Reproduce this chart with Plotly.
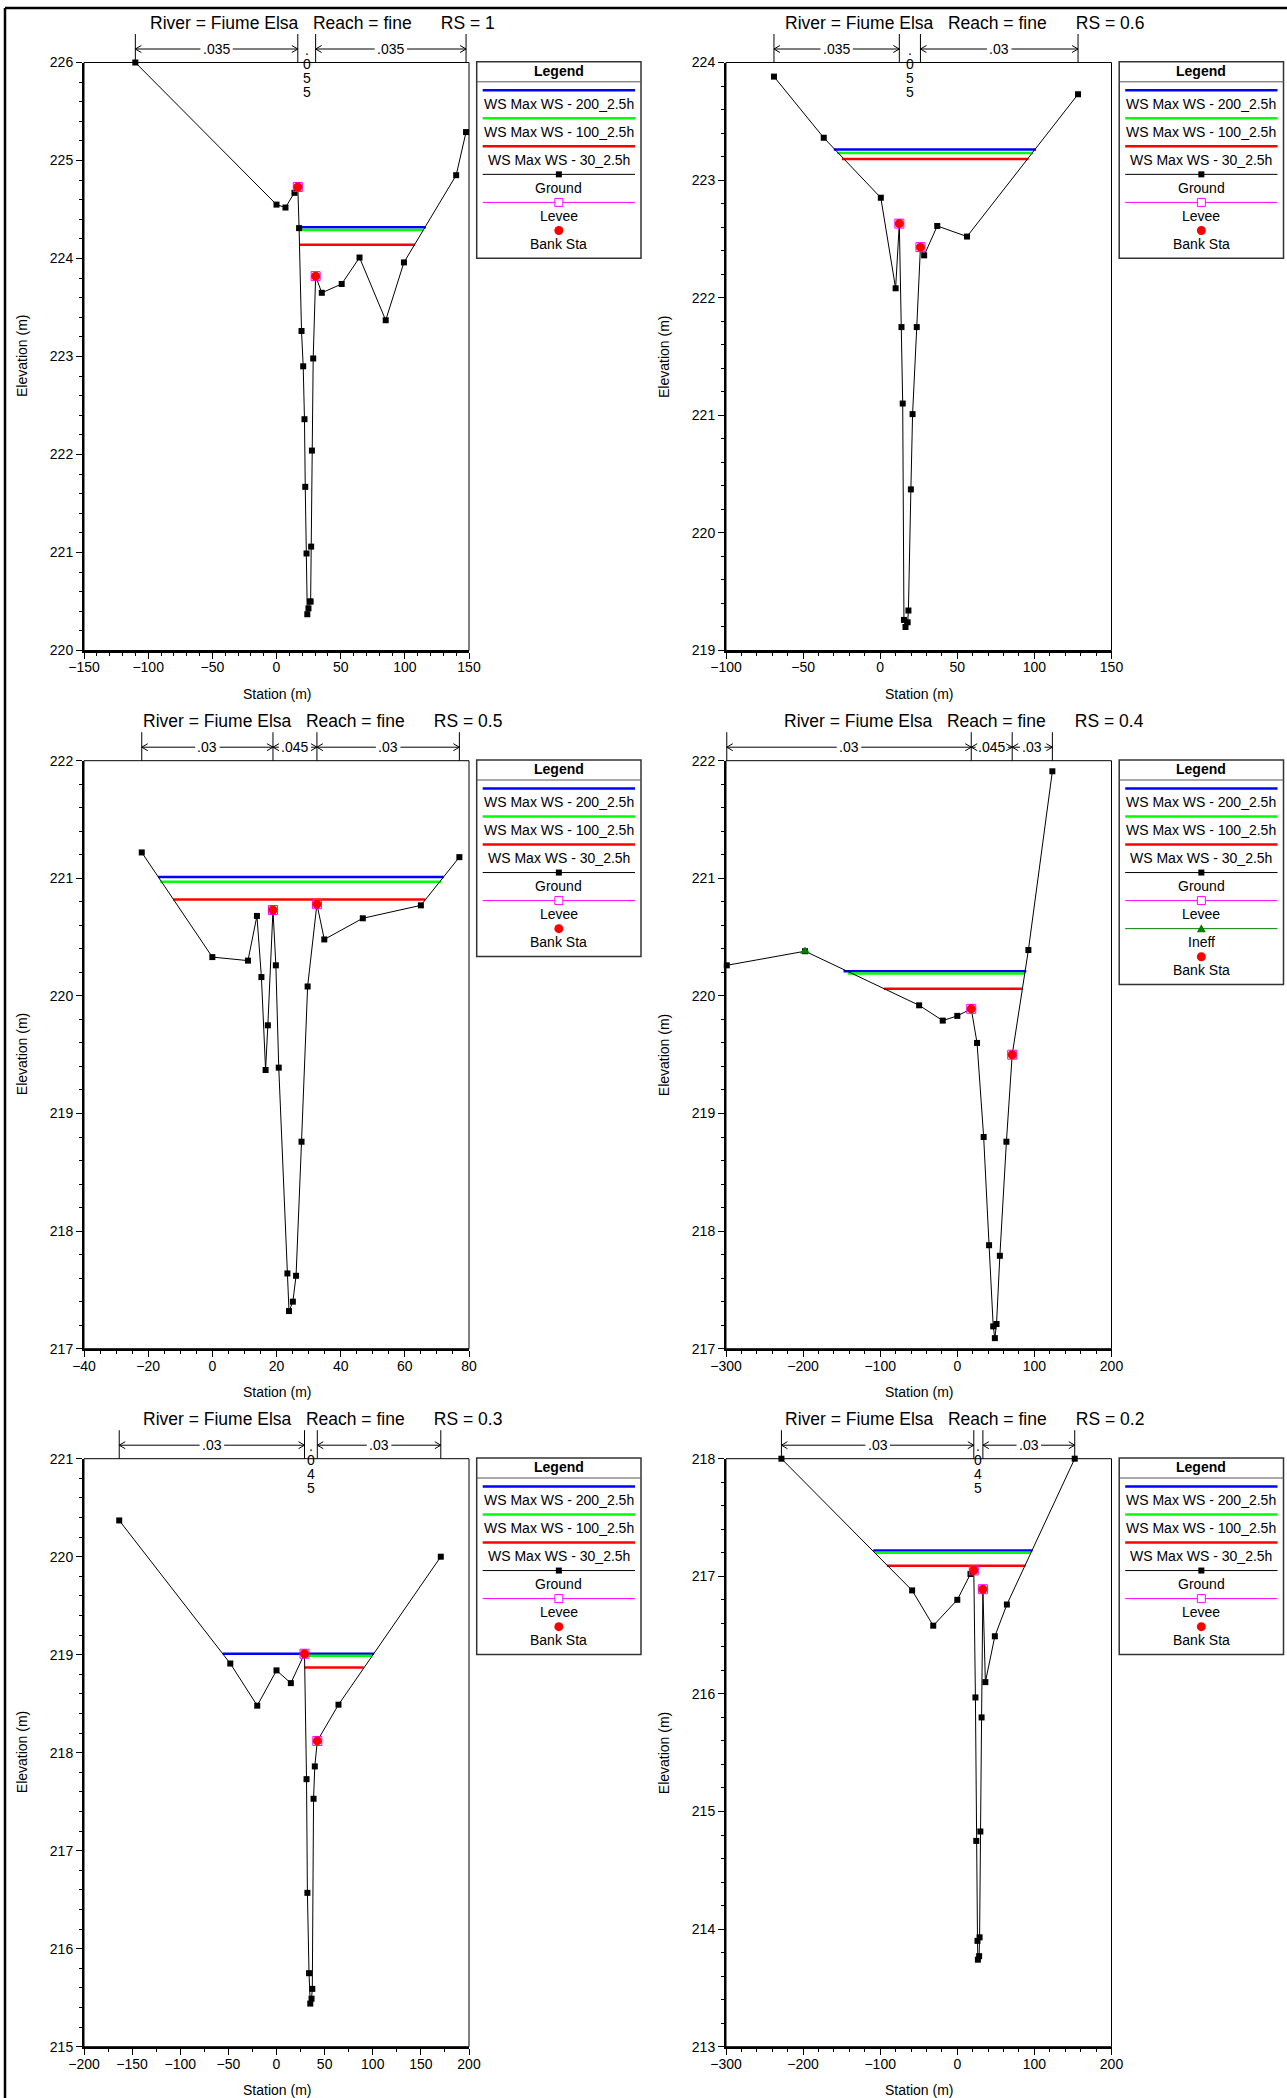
import plotly.graph_objects as go

W, H = 1287, 2098
FONT = "Arial, 'Liberation Sans', sans-serif"

# ---------------- data ----------------
rs_labels = ["1", "0.6", "0.5", "0.4", "0.3", "0.2"]

ws_names = ["WS Max WS - 200_2.5h", "WS Max WS - 100_2.5h", "WS Max WS - 30_2.5h"]
ws_colors = ["#0000FF", "#00FF00", "#FF0000"]

# RS = 1
sta_rs1 = [-110, 0, 7, 14, 16.6, 17.6, 19.5, 20.8, 21.8, 22.4, 23.4, 24.0, 24.9, 26.0, 26.6,
           27.0, 27.6, 28.6, 30.5, 35.3, 50.8, 64.7, 85.1, 99.3, 140.0, 147.7]
elev_rs1 = [226.0, 224.55, 224.52, 224.67, 224.73, 224.31, 223.26, 222.90, 222.36, 221.67, 220.99,
            220.37, 220.43, 220.50, 220.50, 221.06, 222.04, 222.98, 223.82, 223.65, 223.74, 224.01,
            223.37, 223.96, 224.85, 225.29]
bank_sta_rs1 = [16.6, 30.5]
bank_elev_rs1 = [224.73, 223.82]
ws_lvl_rs1 = [224.32, 224.29, 224.14]
ws_left_rs1 = [17.6, 17.6, 17.6]
ws_right_rs1 = [116.4, 114.5, 108.0]
n_brk_rs1 = [-110, 16.6, 30.5, 147.7]
n_val_rs1 = [".035", ".055", ".035"]

# RS = 0.6
sta_rs06 = [-68.9, -36.6, 0.4, 10.0, 12.4, 13.8, 14.6, 15.4, 16.4, 17.8, 18.3, 19.9, 21.0, 23.7,
            26.1, 28.5, 37.0, 56.3, 128.3]
elev_rs06 = [223.88, 223.36, 222.85, 222.08, 222.63, 221.75, 221.10, 219.26, 219.20, 219.24, 219.34,
             220.37, 221.01, 221.75, 222.43, 222.36, 222.61, 222.52, 223.73]
bank_sta_rs06 = [12.4, 26.1]
bank_elev_rs06 = [222.63, 222.43]
ws_lvl_rs06 = [223.26, 223.23, 223.18]
ws_left_rs06 = [-30.1, -28.0, -24.8]
ws_right_rs06 = [101.0, 99.1, 96.2]
n_brk_rs06 = [-68.9, 12.4, 26.1, 128.3]
n_val_rs06 = [".035", ".055", ".03"]

# RS = 0.5
sta_rs05 = [-22.0, 0.0, 11.1, 13.9, 15.3, 16.6, 17.3, 18.9, 19.8, 20.7, 23.4, 23.9, 25.1, 26.1,
            27.8, 29.7, 32.6, 34.9, 46.9, 65.0, 77.0]
elev_rs05 = [221.22, 220.33, 220.30, 220.68, 220.16, 219.37, 219.75, 220.73, 220.26, 219.39, 217.64,
             217.32, 217.40, 217.62, 218.76, 220.08, 220.78, 220.48, 220.66, 220.77, 221.18]
bank_sta_rs05 = [18.9, 32.6]
bank_elev_rs05 = [220.73, 220.78]
ws_lvl_rs05 = [221.01, 220.97, 220.82]
ws_left_rs05 = [-16.9, -16.2, -12.2]
ws_right_rs05 = [72.1, 71.3, 66.4]
n_brk_rs05 = [-22.0, 18.9, 32.6, 77.0]
n_val_rs05 = [".03", ".045", ".03"]

# RS = 0.4
sta_rs04 = [-299, -197.5, -49.5, -18.9, 0, 18.1, 25.6, 34.2, 41.2, 46.6, 48.7, 50.9, 55.2, 63.7,
            71.2, 92.2, 123.3]
elev_rs04 = [220.26, 220.38, 219.92, 219.79, 219.83, 219.89, 219.60, 218.80, 217.88, 217.19, 217.09,
             217.21, 217.79, 218.76, 219.50, 220.39, 221.91]
bank_sta_rs04 = [18.1, 71.2]
bank_elev_rs04 = [219.89, 219.50]
ineff_sta_rs04 = [-197.5]
ineff_elev_rs04 = [220.38]
ws_lvl_rs04 = [220.21, 220.19, 220.06]
ws_left_rs04 = [-147.6, -142.3, -95.0]
ws_right_rs04 = [89.5, 87.3, 85.2]
n_brk_rs04 = [-299, 18.1, 71.2, 123.3]
n_val_rs04 = [".03", ".045", ".03"]

# RS = 0.3
sta_rs03 = [-163.4, -48.0, -20.0, 0.0, 14.9, 29.1, 31.2, 32.1, 33.8, 35.1, 36.4, 37.2, 38.5, 39.8,
            42.4, 64.4, 170.7]
elev_rs03 = [220.37, 218.91, 218.48, 218.84, 218.71, 219.01, 217.73, 216.57, 215.75, 215.44, 215.49,
             215.59, 217.53, 217.86, 218.12, 218.49, 220.0]
bank_sta_rs03 = [29.1, 42.4]
bank_elev_rs03 = [219.01, 218.12]
ws_lvl_rs03 = [219.01, 218.99, 218.87]
ws_left_rs03 = [-55.8, 29.1, 29.1]
ws_right_rs03 = [101.4, 99.3, 90.6]
n_brk_rs03 = [-163.4, 29.1, 42.4, 170.7]
n_val_rs03 = [".03", ".045", ".03"]

# RS = 0.2
sta_rs02 = [-228.1, -58.6, -31.2, 0.0, 17.1, 21.4, 23.5, 24.6, 26.2, 26.7, 28.3, 28.9, 29.9, 31.5,
            33.2, 36.4, 48.7, 64.3, 152.3]
elev_rs02 = [218.0, 216.88, 216.58, 216.80, 217.02, 217.05, 215.97, 214.75, 213.90, 213.74, 213.77,
             213.93, 214.83, 215.80, 216.89, 216.10, 216.49, 216.76, 218.0]
bank_sta_rs02 = [21.4, 33.2]
bank_elev_rs02 = [217.05, 216.89]
ws_lvl_rs02 = [217.22, 217.20, 217.09]
ws_left_rs02 = [-109.0, -106.3, -91.3]
ws_right_rs02 = [97.5, 95.4, 88.4]
n_brk_rs02 = [-228.1, 21.4, 33.2, 152.3]
n_val_rs02 = [".03", ".045", ".03"]

# axis ranges / ticks
x_ranges = [[-150, 150], [-100, 150], [-40, 80], [-300, 200], [-200, 200], [-300, 200]]
y_ranges = [[220, 226], [219, 224], [217, 222], [217, 222], [215, 221], [213, 218]]
x_dticks = [50, 50, 20, 100, 50, 100]
x_minor = [10, 10, 5, 20, 25, 20]

panels = [
    dict(sta=sta_rs1, elev=elev_rs1, bs=bank_sta_rs1, be=bank_elev_rs1, wl=ws_lvl_rs1,
         wa=ws_left_rs1, wb=ws_right_rs1, nb=n_brk_rs1, nv=n_val_rs1, ineff=None),
    dict(sta=sta_rs06, elev=elev_rs06, bs=bank_sta_rs06, be=bank_elev_rs06, wl=ws_lvl_rs06,
         wa=ws_left_rs06, wb=ws_right_rs06, nb=n_brk_rs06, nv=n_val_rs06, ineff=None),
    dict(sta=sta_rs05, elev=elev_rs05, bs=bank_sta_rs05, be=bank_elev_rs05, wl=ws_lvl_rs05,
         wa=ws_left_rs05, wb=ws_right_rs05, nb=n_brk_rs05, nv=n_val_rs05, ineff=None),
    dict(sta=sta_rs04, elev=elev_rs04, bs=bank_sta_rs04, be=bank_elev_rs04, wl=ws_lvl_rs04,
         wa=ws_left_rs04, wb=ws_right_rs04, nb=n_brk_rs04, nv=n_val_rs04,
         ineff=(ineff_sta_rs04, ineff_elev_rs04)),
    dict(sta=sta_rs03, elev=elev_rs03, bs=bank_sta_rs03, be=bank_elev_rs03, wl=ws_lvl_rs03,
         wa=ws_left_rs03, wb=ws_right_rs03, nb=n_brk_rs03, nv=n_val_rs03, ineff=None),
    dict(sta=sta_rs02, elev=elev_rs02, bs=bank_sta_rs02, be=bank_elev_rs02, wl=ws_lvl_rs02,
         wa=ws_left_rs02, wb=ws_right_rs02, nb=n_brk_rs02, nv=n_val_rs02, ineff=None),
]

# ---------------- layout geometry (pixels) ----------------
COL_L = [84.0, 726.0]
COL_R = [469.0, 1111.5]
ROW_T = [62.5, 760.7, 1458.7]
PLOT_H = 588.0
LEG_W = 164.3


def px(x):
    return x / W


def py(y):
    return 1 - y / H


fig = go.Figure()
shapes = []
annots = []
layout_axes = {}


def ann(x, y, text, size=14, xanchor="center", yanchor="middle", xref="paper", angle=0, bold=False):
    if bold:
        text = "<b>" + text + "</b>"
    annots.append(dict(x=x, y=y, xref=xref, yref="paper", text=text, showarrow=False,
                       xanchor=xanchor, yanchor=yanchor, textangle=angle,
                       font=dict(family=FONT, size=size, color="black")))


def pline(x0, y0, x1, y1, color="black", width=1, xref="paper"):
    shapes.append(dict(type="line", xref=xref, yref="paper", x0=x0, y0=y0, x1=x1, y1=y1,
                       line=dict(color=color, width=width), layer="above"))


for i, p in enumerate(panels):
    k = i + 1
    col = i % 2
    row = i // 2
    L, R = COL_L[col], COL_R[col]
    T = ROW_T[row]
    B = T + PLOT_H
    xa = "x" if k == 1 else f"x{k}"
    ya = "y" if k == 1 else f"y{k}"
    xr, yr = x_ranges[i], y_ranges[i]
    ppu = (R - L) / (xr[1] - xr[0])

    # axes
    layout_axes["xaxis" if k == 1 else f"xaxis{k}"] = dict(
        domain=[px(L), px(R)], anchor=ya, range=xr, autorange=False,
        tickmode="linear", tick0=0, dtick=x_dticks[i], ticks="outside", ticklen=6,
        tickwidth=1, tickcolor="black", showline=True, linecolor="black", linewidth=2,
        showgrid=False, zeroline=False, fixedrange=True, ticklabelstandoff=-3,
        tickfont=dict(family=FONT, size=14, color="black"),
        minor=dict(dtick=x_minor[i], tick0=0, ticks="outside", ticklen=3, tickcolor="black",
                   tickwidth=1, showgrid=False))
    layout_axes["yaxis" if k == 1 else f"yaxis{k}"] = dict(
        domain=[py(B), py(T)], anchor=xa, range=yr, autorange=False,
        tickmode="linear", tick0=0, dtick=1, ticks="outside", ticklen=6,
        tickwidth=1, tickcolor="black", showline=True, linecolor="black", linewidth=2,
        showgrid=False, zeroline=False, fixedrange=True,
        tickfont=dict(family=FONT, size=14, color="black"),
        minor=dict(dtick=0.2, tick0=0, ticks="outside", ticklen=3, tickcolor="black",
                   tickwidth=1, showgrid=False))

    # plot border
    shapes.append(dict(type="rect", xref="paper", yref="paper", x0=px(L), x1=px(R),
                       y0=py(B), y1=py(T), line=dict(color="black", width=1), layer="above"))

    # water surfaces
    for j in range(3):
        fig.add_trace(go.Scatter(x=[p["wa"][j], p["wb"][j]], y=[p["wl"][j], p["wl"][j]],
                                 mode="lines", line=dict(color=ws_colors[j], width=2.5),
                                 xaxis=xa, yaxis=ya, showlegend=False, hoverinfo="skip"))
    # ground
    fig.add_trace(go.Scatter(x=p["sta"], y=p["elev"], mode="lines+markers",
                             line=dict(color="black", width=1),
                             marker=dict(symbol="square", size=6, color="black"),
                             xaxis=xa, yaxis=ya, showlegend=False, cliponaxis=False))
    # levee
    fig.add_trace(go.Scatter(x=p["bs"], y=p["be"], mode="markers",
                             marker=dict(symbol="square-open", size=9, color="#FF00FF",
                                         line=dict(width=1, color="#FF00FF")),
                             xaxis=xa, yaxis=ya, showlegend=False, cliponaxis=False))
    # ineffective
    if p["ineff"] is not None:
        fig.add_trace(go.Scatter(x=p["ineff"][0], y=p["ineff"][1], mode="markers",
                                 marker=dict(symbol="triangle-up", size=9, color="#008000"),
                                 xaxis=xa, yaxis=ya, showlegend=False, cliponaxis=False))
    # bank stations
    fig.add_trace(go.Scatter(x=p["bs"], y=p["be"], mode="markers",
                             marker=dict(symbol="circle", size=9, color="#FF0000"),
                             xaxis=xa, yaxis=ya, showlegend=False, cliponaxis=False))

    # title
    title = ("River = Fiume Elsa" + "\u00a0" * 3 + "Reach = fine" + "\u00a0" * 6 +
             "RS = " + rs_labels[i])
    ann(px(L + 238), py(T - 39.5), title, size=17.5)

    # axis titles
    ann(px(L - 62.5), py(T + PLOT_H / 2), "Elevation (m)", angle=-90)
    ann(px((L + R) / 2), py(B + 43), "Station (m)")

    # Manning's n bar
    ny = T - 13.5
    for b in p["nb"]:
        pline(b, py(T - 28.5), b, py(T), xref=xa)
    for s in range(3):
        a, b = p["nb"][s], p["nb"][s + 1]
        label = p["nv"][s]
        wpx = (b - a) * ppu
        tw = sum(3.9 if c == "." else 7.8 for c in label)
        if wpx >= tw + 8:
            cx = (a + b) / 2
            half = (tw / 2 + 2.5) / ppu
            if cx - half > a:
                pline(a, py(ny), cx - half, py(ny), xref=xa)
            if cx + half < b:
                pline(cx + half, py(ny), b, py(ny), xref=xa)
            ch = 6.0 / ppu
            hh = 3.5
            shapes.append(dict(type="path", xref=xa, yref="paper",
                               path=f"M {a + ch},{py(ny - hh)} L {a},{py(ny)} L {a + ch},{py(ny + hh)}",
                               line=dict(color="black", width=1), layer="above"))
            shapes.append(dict(type="path", xref=xa, yref="paper",
                               path=f"M {b - ch},{py(ny - hh)} L {b},{py(ny)} L {b - ch},{py(ny + hh)}",
                               line=dict(color="black", width=1), layer="above"))
            annots.append(dict(x=cx, y=py(ny), xref=xa, yref="paper", text=label,
                               showarrow=False, xanchor="center", yanchor="middle",
                               font=dict(family=FONT, size=14, color="black")))
        else:
            cx = (a + b) / 2
            for c_i, ch_ in enumerate(label):
                annots.append(dict(x=cx, y=py(T - 13 + 14.2 * c_i), xref=xa, yref="paper",
                                   text=ch_, showarrow=False, xanchor="center", yanchor="middle",
                                   font=dict(family=FONT, size=14, color="black")))

    # legend box
    x0 = R + 7.7
    x1 = x0 + LEG_W
    xc = (x0 + x1) / 2
    entries = [("ws", 0), ("ws", 1), ("ws", 2), ("ground", None), ("levee", None)]
    if p["ineff"] is not None:
        entries.append(("ineff", None))
    entries.append(("bank", None))
    n_e = len(entries)
    box_h = 27.7 + 28.05 * (n_e - 1) + 13.3 + 14.5
    shapes.append(dict(type="rect", xref="paper", yref="paper", x0=px(x0), x1=px(x1),
                       y0=py(T + box_h), y1=py(T - 0.8), line=dict(color="#333333", width=1.5),
                       fillcolor="white", layer="above"))
    ann(px(xc), py(T + 8.3), "Legend", bold=True)
    pline(px(x0), py(T + 19.3), px(x1), py(T + 19.3), color="#555555", width=1)
    lx0, lx1 = px(x0 + 6), px(x1 - 6)
    for e_i, (kind, idx) in enumerate(entries):
        yl = T + 27.7 + 28.05 * e_i
        ylab = yl + 13.3
        if kind == "ws":
            pline(lx0, py(yl), lx1, py(yl), color=ws_colors[idx], width=2.5)
            ann(px(xc), py(ylab), ws_names[idx])
        elif kind == "ground":
            pline(lx0, py(yl), lx1, py(yl), color="black", width=1)
            shapes.append(dict(type="rect", xref="paper", yref="paper", x0=px(xc - 3), x1=px(xc + 3),
                               y0=py(yl + 3), y1=py(yl - 3), fillcolor="black",
                               line=dict(color="black", width=0), layer="above"))
            ann(px(xc), py(ylab), "Ground")
        elif kind == "levee":
            pline(lx0, py(yl), lx1, py(yl), color="#FF00FF", width=1)
            shapes.append(dict(type="rect", xref="paper", yref="paper", x0=px(xc - 4), x1=px(xc + 4),
                               y0=py(yl + 4), y1=py(yl - 4), fillcolor="white",
                               line=dict(color="#FF00FF", width=1), layer="above"))
            ann(px(xc), py(ylab), "Levee")
        elif kind == "ineff":
            pline(lx0, py(yl), lx1, py(yl), color="#008000", width=1)
            shapes.append(dict(type="path", xref="paper", yref="paper",
                               path=f"M {px(xc - 4.5)},{py(yl + 3.5)} L {px(xc + 4.5)},{py(yl + 3.5)} "
                                    f"L {px(xc)},{py(yl - 4.5)} Z",
                               fillcolor="#008000", line=dict(color="#008000", width=0), layer="above"))
            ann(px(xc), py(ylab), "Ineff")
        elif kind == "bank":
            shapes.append(dict(type="circle", xref="paper", yref="paper", x0=px(xc - 4.5),
                               x1=px(xc + 4.5), y0=py(yl + 4.5), y1=py(yl - 4.5),
                               fillcolor="#FF0000", line=dict(color="#FF0000", width=0),
                               layer="above"))
            ann(px(xc), py(ylab), "Bank Sta")

# outer frame (left and top edges)
pline(px(5), py(8), px(5), py(H + 5), color="black", width=2.5)
pline(px(5), py(8), px(W + 5), py(8), color="black", width=2.5)

fig.update_layout(
    width=W, height=H,
    margin=dict(l=0, r=0, t=0, b=0, pad=0, autoexpand=False),
    paper_bgcolor="white", plot_bgcolor="white",
    showlegend=False,
    font=dict(family=FONT, size=14, color="black"),
    shapes=shapes, annotations=annots,
    **layout_axes,
)

fig.write_html("out.html", config={"displayModeBar": False, "staticPlot": False},
               post_script="document.body.style.margin='0px';document.body.style.overflow='hidden';")
